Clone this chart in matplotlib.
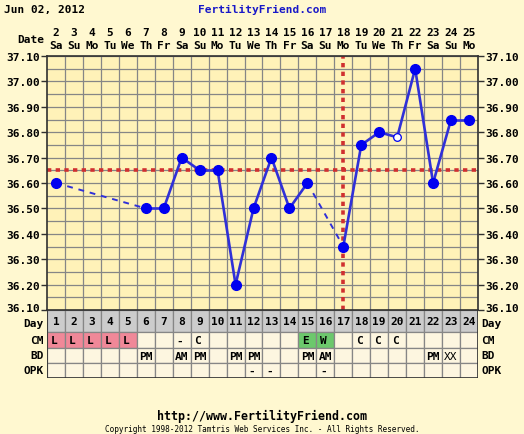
import numpy as np
import matplotlib
matplotlib.use('Agg')
import matplotlib.pyplot as plt
from matplotlib.patches import Rectangle
from matplotlib.transforms import ScaledTranslation

# chart data
cycle_days = list(range(1, 25))
dates = list(range(2, 26))
weekdays = ['Sa', 'Su', 'Mo', 'Tu', 'We', 'Th', 'Fr'] * 3 + ['Sa', 'Su', 'Mo']
temps = [36.60, None, None, None, None, 36.50, 36.50, 36.70, 36.65, 36.65,
         36.20, 36.50, 36.70, 36.50, 36.60, None, 36.35, 36.75, 36.80, 36.78,
         37.05, 36.60, 36.85, 36.85]
open_days = [20]
coverline = 36.65
ovulation_day = 17
cm = ['L', 'L', 'L', 'L', 'L', '', '', '-', 'C', '', '', '', '', '', 'E', 'W',
      '', 'C', 'C', 'C', '', '', '', '']
bd = ['', '', '', '', '', 'PM', '', 'AM', 'PM', '', 'PM', 'PM', '', '', 'PM', 'AM',
      '', '', '', '', '', 'PM', 'XX', '']
opk = ['', '', '', '', '', '', '', '', '', '', '', '-', '-', '', '', '-',
       '', '', '', '', '', '', '', '']
cm_colors = {'L': '#f08898', 'E': '#6cc86c', 'W': '#6cc86c'}
yticks = [36.10, 36.20, 36.30, 36.40, 36.50, 36.60, 36.70, 36.80, 36.90, 37.00, 37.10]

W, H = 524, 435
bg = '#fff8d0'
plot_bg = '#fff2b8'
cell_bg = '#fdf6e0'
grid_c = '#868686'
line_c = '#3030d8'
dot_c = '#0000f0'
mono = 'DejaVu Sans Mono'
fs = 8

fig = plt.figure(figsize=(W / 100, H / 100), dpi=100, facecolor=bg)

x0, x1 = 47, 478
ytop, ybot = 57, 311
ax = fig.add_axes([x0 / W, 1 - ybot / H, (x1 - x0) / W, (ybot - ytop) / H])
ax.set_facecolor(plot_bg)
ax.set_xlim(0.5, 24.5)
ax.set_ylim(36.10, 37.10)
for xv in np.arange(1.5, 24.5, 1):
    ax.axvline(xv, color=grid_c, lw=0.9, zorder=1)
for yv in np.arange(36.15, 37.10, 0.05):
    ax.axhline(yv, color=grid_c, lw=0.9, zorder=1)
for s in ax.spines.values():
    s.set_color('#303030')
    s.set_linewidth(1.2)
ax.set_xticks([])
ax.set_yticks(yticks)
ax.set_yticklabels(['%.2f' % t for t in yticks], family=mono, weight='bold', fontsize=fs)
ax.tick_params(axis='y', length=4, width=1, color='#303030', pad=1,
               labelleft=True, labelright=True, right=True)
# lift the bottom labels a little so they clear the "Day" row labels
bottom_tick = ax.yaxis.get_major_ticks()[0]
lift = ScaledTranslation(0, 2.5 / 100, fig.dpi_scale_trans)
for lab in (bottom_tick.label1, bottom_tick.label2):
    lab.set_transform(lab.get_transform() + lift)

# coverline and ovulation line
ax.axhline(coverline, color='#d03030', lw=2.6, ls=(0, (1.2, 1.2)), zorder=2)
ax.axvline(ovulation_day, color='#d03030', lw=2.6, ls=(0, (1.2, 1.2)), zorder=2)

# temperature line
valid = [i for i, t in enumerate(temps) if t is not None]
for a, b in zip(valid[:-1], valid[1:]):
    xs = [cycle_days[a], cycle_days[b]]
    ys = [temps[a], temps[b]]
    if b - a == 1:
        ax.plot(xs, ys, color=line_c, lw=1.9, zorder=3)
    else:
        ax.plot(xs, ys, color=line_c, lw=1.4, ls=(0, (3, 3)), zorder=3)
for i in valid:
    if cycle_days[i] in open_days:
        ax.plot(cycle_days[i], temps[i], 'o', ms=5.5, mfc='white', mec=dot_c, mew=0.9, zorder=4)
    else:
        ax.plot(cycle_days[i], temps[i], 'o', ms=7, color=dot_c, zorder=4)

# header with dates
for d, dt, wd in zip(cycle_days, dates, weekdays):
    xf = (x0 + (d - 0.5) * (x1 - x0) / 24) / W
    fig.text(xf, 1 - 33 / H, str(dt), ha='center', va='center', family=mono,
             weight='bold', fontsize=fs)
    fig.text(xf, 1 - 46 / H, wd, ha='center', va='center', family=mono,
             weight='bold', fontsize=fs)
fig.text(44 / W, 1 - 40 / H, 'Date', ha='right', va='center', family=mono,
         weight='bold', fontsize=fs)
fig.text(4 / W, 1 - 10 / H, 'Jun 02, 2012', ha='left', va='center', family=mono,
         weight='bold', fontsize=fs)
fig.text(262 / W, 1 - 10 / H, 'FertilityFriend.com', ha='center', va='center',
         family=mono, weight='bold', fontsize=fs, color='#1818c8')

# table below the chart
rows = [('Day', 311, 333), ('CM', 333, 349), ('BD', 349, 364), ('OPK', 364, 379)]
tab = fig.add_axes([x0 / W, 1 - 379 / H, (x1 - x0) / W, (379 - 311) / H])
tab.set_xlim(0.5, 24.5)
tab.set_ylim(379, 311)
tab.axis('off')
row_vals = {'Day': [str(d) for d in cycle_days], 'CM': cm, 'BD': bd, 'OPK': opk}
for name, ya, yb in rows:
    for i, d in enumerate(cycle_days):
        v = row_vals[name][i]
        if name == 'Day':
            fc = '#cccccc'
        elif name == 'CM' and v in cm_colors:
            fc = cm_colors[v]
        else:
            fc = cell_bg
        tab.add_patch(Rectangle((d - 0.5, ya), 1, yb - ya, fc=fc, ec=grid_c, lw=0.9))
        if v:
            ha = 'center' if name in ('Day', 'BD') else 'left'
            xt = d if ha == 'center' else d - 0.3
            tab.text(xt, (ya + yb) / 2 + 0.5, v, ha=ha, va='center', family=mono,
                     weight='bold' if v != 'XX' else 'normal', fontsize=fs)
    yc = (ya + yb) / 2 + (2 if name == 'Day' else 0)
    fig.text(44 / W, 1 - yc / H, name, ha='right', va='center',
             family=mono, weight='bold', fontsize=fs)
    fig.text(481 / W, 1 - yc / H, name, ha='left', va='center',
             family=mono, weight='bold', fontsize=fs)
tab.add_patch(Rectangle((0.5, 311), 24, 68, fc='none', ec='#303030', lw=1.2))

fig.text(262 / W, 1 - 416 / H, 'http://www.FertilityFriend.com', ha='center',
         va='center', family=mono, weight='bold', fontsize=8.4)
fig.text(262 / W, 1 - 430 / H,
         'Copyright 1998-2012 Tamtris Web Services Inc. - All Rights Reserved.',
         ha='center', va='center', family=mono, fontsize=5.6)

fig.savefig('out.png', dpi=100, facecolor=bg)
